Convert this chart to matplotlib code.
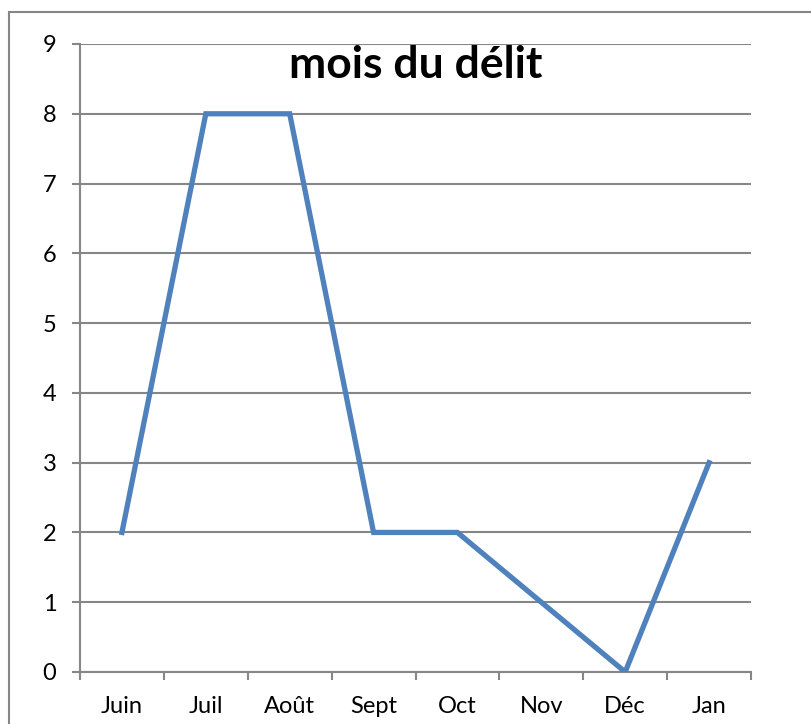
import matplotlib.pyplot as plt
from matplotlib.patches import Rectangle

plt.rcParams['font.family'] = ['Lato', 'DejaVu Sans']

mois = ["Juin", "Juil", "Août", "Sept", "Oct", "Nov", "Déc", "Jan"]
valeurs = [2, 8, 8, 2, 2, 1, 0, 3]
graduations = list(range(0, 10))

fig = plt.figure(figsize=(8.11, 7.24), dpi=100)
ax = fig.add_axes([80/811, 1 - 672/724, 671/811, 628/724])

gris = "#868686"

# cadre exterieur du graphique
fig.patches.append(Rectangle((9/811, -0.5), 2, 1.5 - 12/724, transform=fig.transFigure,
                             fill=False, ec=gris, lw=1.5, clip_on=False))

x = list(range(len(mois)))
ax.plot(x, valeurs, color="#4F81BD", lw=3.8, solid_joinstyle="miter", zorder=3)

ax.set_xlim(-0.5, len(mois) - 0.5)
ax.set_ylim(0, 9)
ax.set_yticks(graduations)
ax.set_xticks(x)
ax.set_xticklabels(mois)
ax.set_xticks([i - 0.5 for i in range(len(mois) + 1)], minor=True)

ax.tick_params(axis="x", which="major", length=0, pad=17, labelsize=17)
ax.tick_params(axis="x", which="minor", length=6, width=1.5, color=gris, direction="out")
ax.tick_params(axis="y", length=6, width=1.5, color=gris, pad=11, labelsize=17)

ax.grid(axis="y", color=gris, lw=1.5)
ax.set_axisbelow(True)
for s in ["top", "right"]:
    ax.spines[s].set_visible(False)
for s in ["left", "bottom"]:
    ax.spines[s].set_color(gris)
    ax.spines[s].set_linewidth(1.5)

ax.text(0.5, 0.966, "mois du délit", transform=ax.transAxes, ha="center", va="center",
        fontsize=32, fontweight="bold")

fig.savefig("out.png", dpi=100)
